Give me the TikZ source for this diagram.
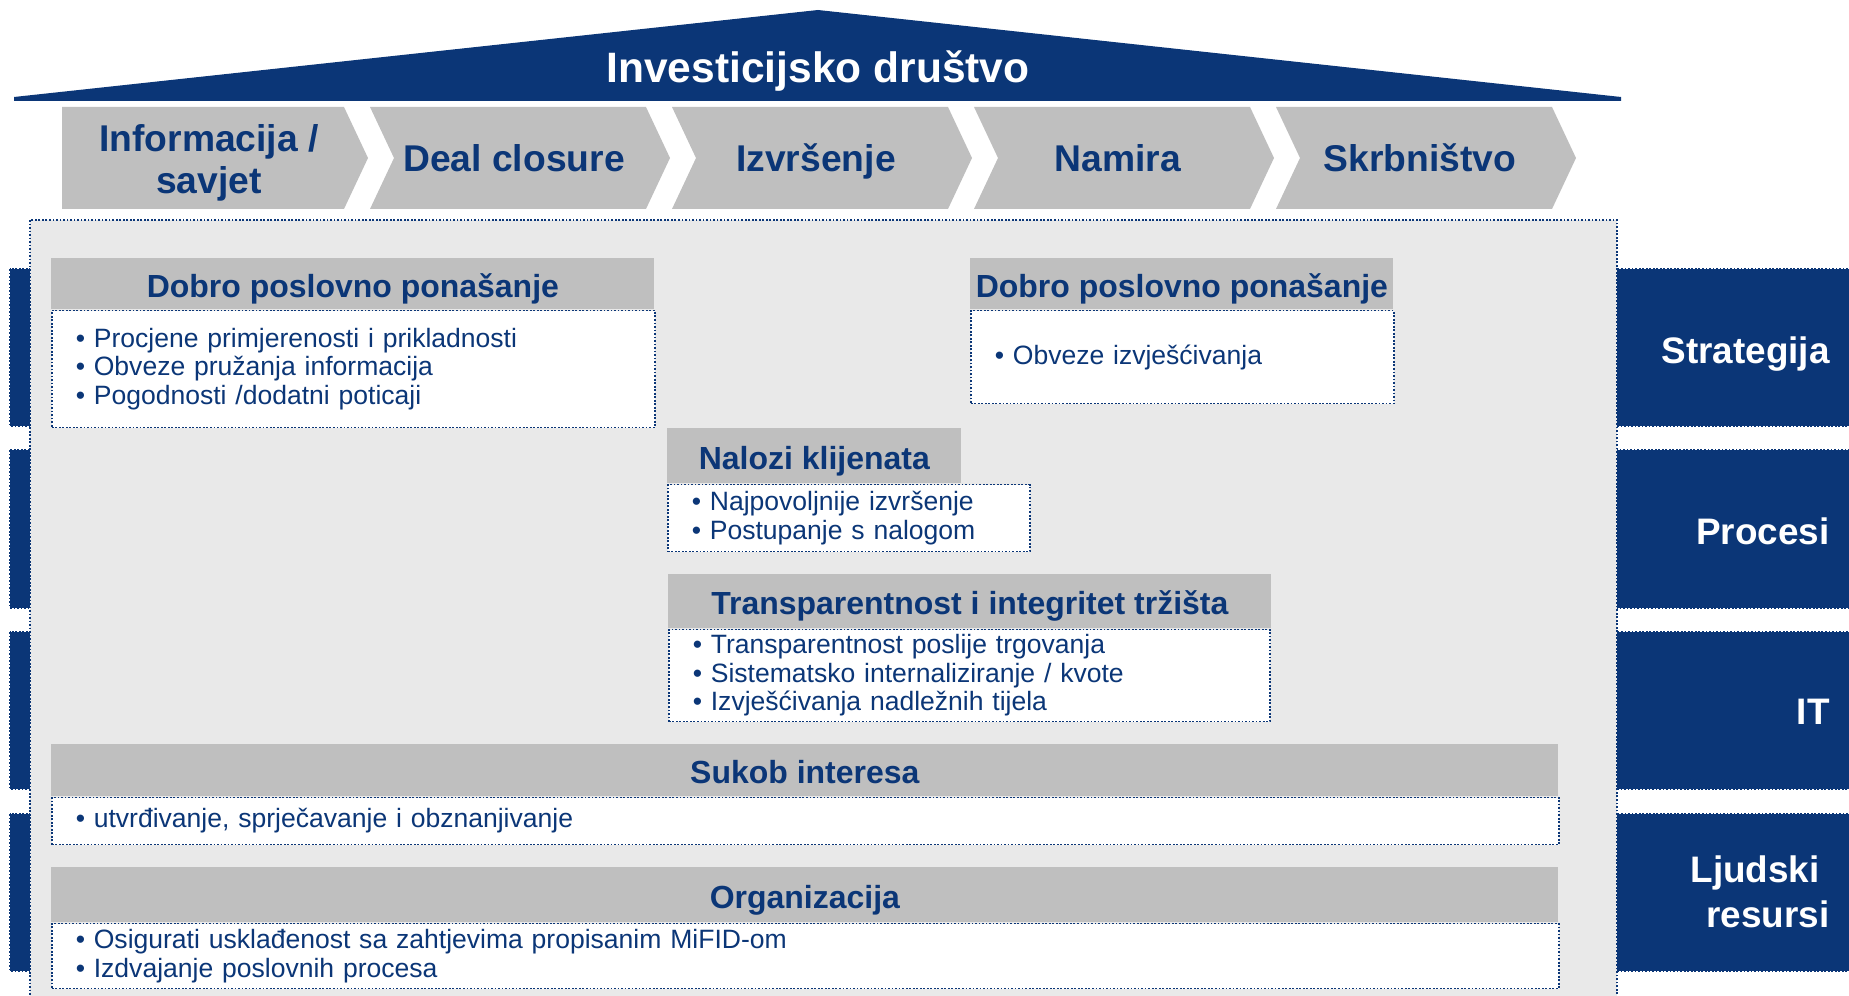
\documentclass[tikz,border=0pt]{standalone}
\usepackage{fontspec}
\setmainfont{Liberation Sans}
\usetikzlibrary{positioning}
\definecolor{navy}{RGB}{11,54,119}
\definecolor{chevgray}{RGB}{191,191,191}
\definecolor{panelgray}{RGB}{233,233,233}
\newcommand{\itm}[1]{\makebox[10.2pt][l]{\textbullet}#1}
\begin{document}
\begin{tikzpicture}[x=0.02cm,y=-0.02cm,
  hdr/.style 2 args={fill=chevgray, text=navy, font=\fontsize{18.2}{22}\selectfont\bfseries,
    anchor=north west, inner sep=0pt, minimum width=#1*0.02cm, minimum height=#2*0.02cm,
    text height=15.4pt, text depth=0pt},
  body/.style 2 args={draw=navy, densely dotted, line width=1pt, fill=white, text=navy,
    font=\fontsize{15.1}{16.2}\selectfont, align=left, anchor=north west,
    inner xsep=13.7pt, inner ysep=0pt, minimum width=#1*0.02cm, minimum height=#2*0.02cm,
    text width=#1*0.02cm-27.4pt},
  pillar/.style={fill=navy, draw=navy, densely dotted, line width=1pt},
  pillarlabel/.style={text=white, font=\fontsize{21}{25.6}\selectfont\bfseries, align=right, inner sep=0pt},
  phase/.style={text=navy, font=\fontsize{21.2}{24.2}\selectfont\bfseries, align=center, inner sep=0pt}]
\useasboundingbox (0,0) rectangle (1849,996);
% pillars behind the panel
\foreach \ytop/\ybot in {269/426, 450/608, 632/789, 814/971}
  \draw[pillar] (10,\ytop) rectangle (1870,\ybot);
% panel
\draw[fill=panelgray, draw=navy, densely dotted, line width=1pt] (30,220) rectangle (1617,1010);
% roof
\fill[navy] (14,97) -- (818,10) -- (1621,97) -- (1621,101) -- (14,101) -- cycle;
\node[text=white, font=\fontsize{24.2}{29}\selectfont\bfseries, anchor=base, inner sep=0pt] (title) at (818,83) {Investicijsko društvo};
% chevrons
\fill[chevgray] (62,107) -- (344,107) -- (368,158) -- (344,209) -- (62,209) -- cycle;
\foreach \xl in {370,672,974,1276}
  \fill[chevgray] (\xl,107) -- (\xl+276,107) -- (\xl+300,158) -- (\xl+276,209) -- (\xl,209) -- (\xl+24,158) -- cycle;
\node[phase, anchor=center] (info) at (209,163) {Informacija /\\savjet};
\node[phase, anchor=base] (deal) at (514,172) {Deal closure};
\node[phase, anchor=base] (izvr) at (816,172) {Izvršenje};
\node[phase, anchor=base] (namira) at (1118,172) {Namira};
\node[phase, anchor=base] (skrb) at (1420,172) {Skrbništvo};
% pillar labels
\node[pillarlabel, anchor=base east] (strat) at (1830,364) {Strategija};
\node[pillarlabel, anchor=base east] (proc) at (1830,544) {Procesi};
\node[pillarlabel, anchor=base east] (it) at (1830,724) {IT};
\node[pillarlabel, anchor=east] (ljud) at (1830,892) {Ljudski\kern5.7pt\\resursi};
% boxes
\node[hdr={603}{51}] (dobroL) at (51,258) {Dobro poslovno ponašanje};
\node[body={603}{117}] (dobroLb) at (dobroL.south west)
  {\itm{Procjene primjerenosti i prikladnosti}\\\itm{Obveze pružanja informacija}\\\itm{Pogodnosti /dodatni poticaji}};
\node[hdr={423}{51}] (dobroR) at (970,258) {Dobro poslovno ponašanje};
\node[body={423}{93}] (dobroRb) at (dobroR.south west) {\itm{Obveze izvješćivanja}};
\node[hdr={294}{55}] (nalozi) at (667,428) {Nalozi klijenata};
\node[body={362}{67}] (nalozib) at (nalozi.south west)
  {\itm{Najpovoljnije izvršenje}\\\itm{Postupanje s nalogom}};
\node[hdr={603}{54}] (transp) at (668,574) {Transparentnost i integritet tržišta};
\node[body={601}{92}] (transpb) at (transp.south west)
  {\itm{Transparentnost poslije trgovanja}\\\itm{Sistematsko internaliziranje / kvote}\\\itm{Izvješćivanja nadležnih tijela}};
\node[hdr={1507}{52}] (sukob) at (51,744) {Sukob interesa};
\node[body={1507}{47}] (sukobb) at (sukob.south west) {\itm{utvrđivanje, sprječavanje i obznanjivanje}};
\node[hdr={1507}{55}] (org) at (51,867) {Organizacija};
\node[body={1507}{65}] (orgb) at (org.south west)
  {\itm{Osigurati usklađenost sa zahtjevima propisanim MiFID-om}\\\itm{Izdvajanje poslovnih procesa}};
\end{tikzpicture}
\end{document}
